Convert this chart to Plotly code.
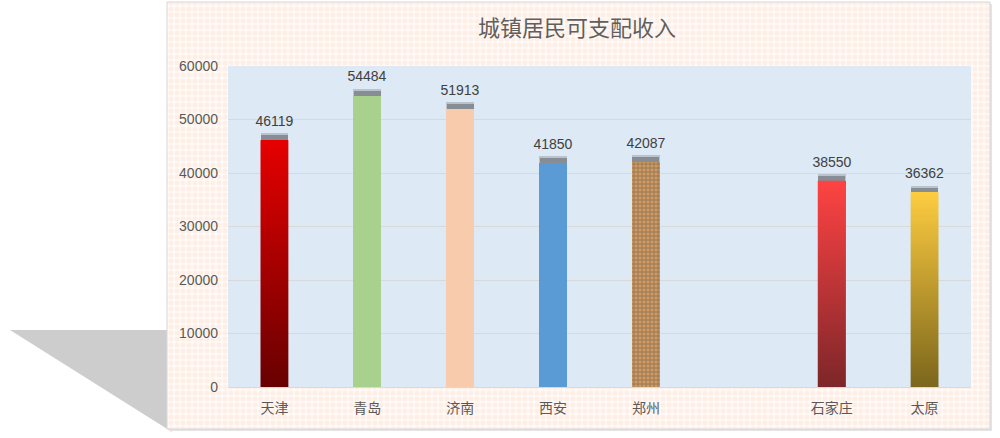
import plotly.graph_objects as go

# ---- data ----
categories = ['天津', '青岛', '济南', '西安', '郑州', '', '石家庄', '太原']
values = [46119, 54484, 51913, 41850, 42087, None, 38550, 36362]
y_ticks = [0, 10000, 20000, 30000, 40000, 50000, 60000]
title_text = '城镇居民可支配收入'

# ---- styles ----
W, H = 1000, 438
PL, PR, PT, PB = 228, 971, 66, 387          # plot area in pixels
BAR_W = 0.30
SHADOW_H = 1300
LABEL_GAP = 1500
solid_colors = ['#e00000', '#a9d18e', '#f8cbad', '#5b9bd5', '#cf9a62', 'rgba(0,0,0,0)', '#ff4343', '#fdcb3d']
gradients = {
    0: [[0, '#680000'], [1, '#e60000']],
    6: [[0, '#7d2629'], [1, '#ff4343']],
    7: [[0, '#7b661c'], [1, '#fdcc40']],
}
pattern_shapes = ['', '', '', '', '+', '', '', '']

positions = list(range(len(categories)))
fig = go.Figure()

# ---- background decoration (full-figure axes x/y) ----
fig.add_trace(go.Scatter(x=[10, 172, 172, 10], y=[330, 330, 432, 330], fill='toself',
                         fillcolor='#cdcdcd', line=dict(width=0), mode='lines',
                         hoverinfo='skip', showlegend=False, xaxis='x', yaxis='y'))
fig.add_trace(go.Scatter(x=[169, 992, 992, 169, 169], y=[4, 4, 431, 431, 4], fill='toself',
                         fillcolor='#e4e4e4', line=dict(width=0), mode='lines',
                         hoverinfo='skip', showlegend=False, xaxis='x', yaxis='y'))
fig.add_trace(go.Scatter(x=[167, 990, 990, 167, 167], y=[2, 2, 429, 429, 2], fill='toself',
                         fillcolor='#fdeee5',
                         fillpattern=dict(shape='.', fgcolor='#fde3d5', bgcolor='#fffaf7',
                                          size=6, solidity=0.55),
                         line=dict(width=1, color='#d6d6d6'), mode='lines',
                         hoverinfo='skip', showlegend=False, xaxis='x', yaxis='y'))
fig.add_trace(go.Scatter(x=[PL, PR, PR, PL, PL], y=[PT, PT, PB, PB, PT], fill='toself',
                         fillcolor='#dde9f5', line=dict(width=0), mode='lines',
                         hoverinfo='skip', showlegend=False, xaxis='x', yaxis='y'))

# ---- bars (main axes x2/y2) ----
fig.add_trace(go.Bar(
    x=positions, y=values, width=BAR_W,
    marker=dict(color=solid_colors, line=dict(width=0),
                pattern=dict(shape=pattern_shapes, fgcolor='#8f6032', size=4, solidity=0.35)),
    hoverinfo='skip', showlegend=False, xaxis='x2', yaxis='y2'))

present = [v is not None for v in values]
# soft grey shadow on bar tops
fig.add_trace(go.Bar(
    x=positions, y=[SHADOW_H if p else None for p in present], base=values, width=BAR_W,
    marker=dict(color='rgba(120,125,130,0.35)', line=dict(width=0)),
    hoverinfo='skip', showlegend=False, xaxis='x2', yaxis='y2'))
fig.add_trace(go.Bar(
    x=positions, y=[SHADOW_H * 0.7 if p else None for p in present], base=values, width=BAR_W - 0.01,
    marker=dict(color='rgba(100,105,110,0.6)', line=dict(width=0)),
    hoverinfo='skip', showlegend=False, xaxis='x2', yaxis='y2'))

# transparent carrier for value labels
fig.add_trace(go.Bar(
    x=positions, y=[LABEL_GAP if p else None for p in present], base=values, width=BAR_W,
    marker=dict(color='rgba(0,0,0,0)', line=dict(width=0)),
    customdata=values, texttemplate='%{customdata}', textposition='outside',
    constraintext='none', cliponaxis=False,
    textfont=dict(family='Liberation Sans, Arial', size=14, color='#404040'),
    hoverinfo='skip', showlegend=False, xaxis='x2', yaxis='y2'))

# gradient bars drawn as filled polygons from the data values
for i, cs in gradients.items():
    v = values[i]
    x0, x1 = positions[i] - BAR_W / 2, positions[i] + BAR_W / 2
    fig.add_trace(go.Scatter(
        x=[x0, x1, x1, x0, x0], y=[0, 0, v, v, 0], fill='toself', mode='lines',
        line=dict(width=0), fillgradient=dict(type='vertical', colorscale=cs),
        hoverinfo='skip', showlegend=False, xaxis='x2', yaxis='y2'))

fig.add_annotation(text=title_text, xref='paper', yref='paper', x=577 / W, y=1 - 26 / H,
                   showarrow=False, xanchor='center', yanchor='middle',
                   font=dict(family='Noto Sans CJK SC', size=22, color='#5f5f5f'))

fig.update_layout(
    width=W, height=H, margin=dict(l=0, r=0, t=0, b=0, autoexpand=False),
    paper_bgcolor='white', plot_bgcolor='rgba(0,0,0,0)',
    barmode='overlay', bargap=0,
    xaxis=dict(domain=[0, 1], range=[0, W], visible=False, fixedrange=True, automargin=False),
    yaxis=dict(domain=[0, 1], range=[H, 0], visible=False, fixedrange=True, automargin=False),
    xaxis2=dict(domain=[PL / W, PR / W], range=[-0.5, len(categories) - 0.5],
                anchor='y2', tickvals=positions, ticktext=categories, showgrid=False,
                zeroline=False, showline=True, linecolor='#d9d9d9', linewidth=1,
                ticks='', ticklabelstandoff=8, automargin=False,
                tickfont=dict(family='Noto Sans CJK SC', size=14, color='#595959')),
    yaxis2=dict(domain=[1 - PB / H, 1 - PT / H], range=[0, 60000], anchor='x2',
                tickvals=y_ticks, tickformat='d', showgrid=True, gridcolor='#d9d9d9', gridwidth=1,
                zeroline=False, showline=False, ticks='', ticklabelstandoff=9, automargin=False,
                tickfont=dict(family='Liberation Sans, Arial', size=14, color='#595959')),
)

fig.write_html('out.html', config={'displayModeBar': False},
               post_script="document.body.style.margin='0';document.body.style.overflow='hidden';")
